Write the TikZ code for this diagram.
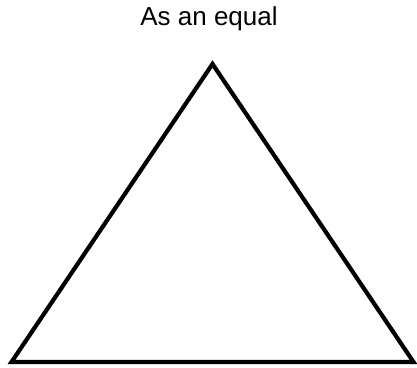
\documentclass[tikz,border=0pt]{standalone}
\usepackage{fontspec}
\setmainfont{Liberation Sans}
\usetikzlibrary{positioning}
\tikzset{
	titlenode/.style={
			inner sep=0pt,
			anchor=base,
			font=\fontsize{26}{30}\selectfont
		},
	edgeline/.style={
			draw=black,
			line width=4.2pt,
			line join=miter
		}
}
\begin{document}
\begin{tikzpicture}[x=1pt, y=1pt]
\useasboundingbox (0,0) rectangle (417,-367);
\node[titlenode] (title) at (209,-25) {As an equal};

\coordinate (top) at (212.5,-64);
\coordinate (left) at (11.5,-362);
\coordinate (right) at (413.5,-362);

\draw[edgeline] (top) -- (right) -- (left) -- cycle;

\end{tikzpicture}
\end{document}
